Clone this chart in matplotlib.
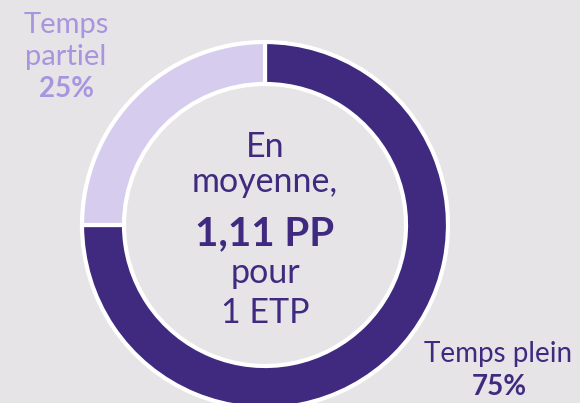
import matplotlib
matplotlib.use("Agg")
import matplotlib.pyplot as plt

categories = ["Temps plein", "Temps partiel"]
values = [75, 25]
pct_labels = ["75%", "25%"]
center_lines = ["En", "moyenne,", "1,11 PP", "pour", "1 ETP"]

W, H = 580, 403
dark = "#3f2a80"
light = "#d6cced"
label_light = "#a596df"
bg = "#e6e4e6"

fig = plt.figure(figsize=(W / 100, H / 100), dpi=100)
fig.patch.set_facecolor(bg)
ax = fig.add_axes([0, 0, 1, 1])
ax.set_facecolor(bg)

cx, cy, R, r = 265, 225, 183, 141
ax.pie(values, colors=[dark, light], startangle=270, counterclock=True,
       center=(cx, cy), radius=R, frame=True,
       wedgeprops=dict(width=R - r, edgecolor="white", linewidth=3))
ax.set_xlim(0, W)
ax.set_ylim(H, 0)
ax.set_aspect("equal")
ax.axis("off")

font = "Lato"
# center text
ys = [157, 192, 245, 283, 323]
sizes = [24.5, 24.5, 29, 24.5, 24.5]
weights = ["normal", "normal", "bold", "normal", "normal"]
for t, y, s, w in zip(center_lines, ys, sizes, weights):
    ax.text(cx, y, t, ha="center", va="baseline", fontsize=s, fontweight=w,
            color=dark, family=font)

# outer labels
ax.text(66, 33, categories[1].split()[0], ha="center", va="baseline", fontsize=21,
        color=label_light, family=font)
ax.text(66, 65, categories[1].split()[1], ha="center", va="baseline", fontsize=21,
        color=label_light, family=font)
ax.text(66, 97, pct_labels[1], ha="center", va="baseline", fontsize=20,
        fontweight="bold", color=label_light, family=font)

ax.text(498, 362, categories[0], ha="center", va="baseline", fontsize=20,
        color=dark, family=font)
ax.text(499, 395, pct_labels[0], ha="center", va="baseline", fontsize=20,
        fontweight="bold", color=dark, family=font)

fig.savefig("out.png", dpi=100, facecolor=bg)
